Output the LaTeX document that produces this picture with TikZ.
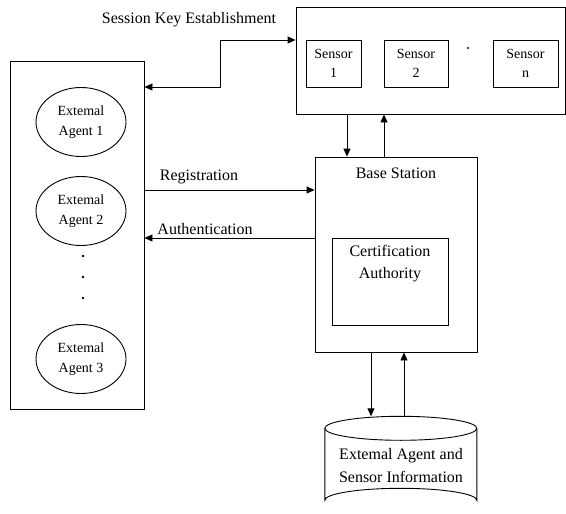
\documentclass[tikz,border=0pt]{standalone}
\usepackage{fontspec}
\setmainfont{Liberation Serif}
\usetikzlibrary{arrows.meta,shapes.geometric}
\tikzset{
  box/.style={draw, line width=0.9pt, rectangle, inner sep=0pt},
  agent/.style={draw, line width=0.9pt, ellipse, minimum width=90pt, minimum height=69pt, inner sep=0pt, align=center, font=\fontsize{14}{20}\selectfont},
  sensorbox/.style={box, minimum height=47pt, align=center, font=\fontsize{14}{19}\selectfont},
  lbl/.style={font=\fontsize{16}{23}\selectfont, inner sep=0pt, align=center},
  arr/.style={line width=0.9pt, -{Triangle[length=8pt,width=7pt]}},
  dotmark/.style={fill, circle, inner sep=0pt, minimum size=2.6pt}
}
\begin{document}
\begin{tikzpicture}[x=1pt,y=-1pt]
\useasboundingbox (0,0) rectangle (566,514);
% left box with agents
\node[box, minimum width=134pt, minimum height=348pt] (left) at (77,235) {};
\node[agent] (a1) at (81,122) {Extemal\\Agent 1};
\node[agent] (a2) at (81,211) {Extemal\\Agent 2};
\node[agent] (a3) at (81,359) {Extemal\\Agent 3};
\node[dotmark] (d1) at (83,256) {};
\node[dotmark] (d2) at (83,277) {};
\node[dotmark] (d3) at (83,298) {};
% sensors
\node[box, minimum width=269pt, minimum height=107pt] (sens) at (430.5,60.5) {};
\node[sensorbox, minimum width=55pt] (s1) at (333.5,63.5) {Sensor\\1};
\node[sensorbox, minimum width=64pt] (s2) at (416,63.5) {Sensor\\2};
\node[sensorbox, minimum width=65pt] (sn) at (525.5,63.5) {Sensor\\n};
\node[dotmark, minimum size=2.4pt] (sd) at (468,48) {};
% base station
\node[box, minimum width=162pt, minimum height=195pt] (bs) at (396,254.5) {};
\node[lbl] (bst) at (396,173) {Base Station};
\node[box, minimum width=116pt, minimum height=87pt] (ca) at (390,281.5) {};
\node[lbl, font=\fontsize{16}{22}\selectfont] (cat) at (390,264) {Certification\\Authority};
% database cylinder
\node[inner sep=0pt, minimum width=152pt, minimum height=96pt] (db) at (401,464.5) {};
\draw[line width=0.9pt] (db.north west) ++(0,12) arc[start angle=180, end angle=-180, x radius=76, y radius=12];
\draw[line width=0.9pt] (db.north west) ++(0,12) -- ++(0,72) arc[start angle=180, end angle=360, x radius=76, y radius=12] -- ++(0,-72);
\node[lbl] (dbt) at (401,466) {Extemal Agent and\\Sensor Information};
% labels
\node[lbl] (skl) at (189,20) {Session Key Establishment};
\node[lbl] (regl) at (199,177) {Registration};
\node[lbl] (authl) at (205,229) {Authentication};
% connectors
\coordinate (k1) at (220,40);
\coordinate (k2) at (220,87);
\draw[line width=0.9pt, {Triangle[length=8pt,width=7pt]}-{Triangle[length=8pt,width=7pt]}] (left.east |- k2) -- (k2) -- (k1) -- (sens.west |- k1);
\coordinate (r) at (0,190);
\coordinate (au) at (0,238);
\draw[arr] (left.east |- r) -- (bs.west |- r);
\draw[arr] (bs.west |- au) -- (left.east |- au);
\draw[arr] ([xshift=-49pt]bs.north |- sens.south) -- ([xshift=-49pt]bs.north);
\draw[arr] ([xshift=-12pt]bs.north) -- ([xshift=-12pt]bs.north |- sens.south);
\draw[arr] ([xshift=-25pt]bs.south) -- ([xshift=-25pt]bs.south |- db.north);
\draw[arr] ([xshift=8pt]bs.south |- db.north) -- ([xshift=8pt]bs.south);
\end{tikzpicture}
\end{document}
